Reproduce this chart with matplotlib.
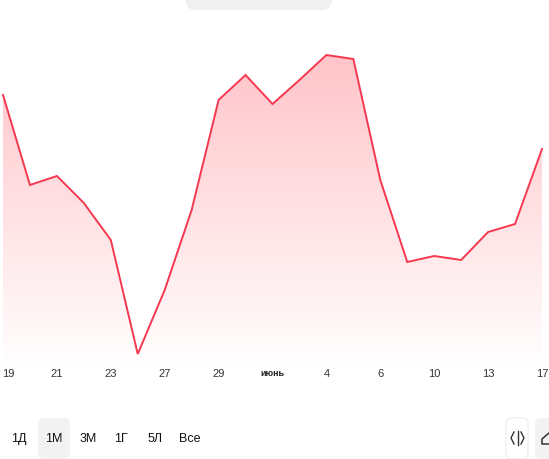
import numpy as np
import matplotlib
matplotlib.use('Agg')
import matplotlib.pyplot as plt
from matplotlib.patches import FancyBboxPatch, Polygon
from matplotlib.transforms import ScaledTranslation

plt.rcParams['font.family'] = ['Liberation Sans', 'DejaVu Sans']

# values (height above the bottom of the plot area)
values = [275, 185, 194, 167, 130, 16, 80, 160, 270, 295, 266, 290, 315, 311, 190, 108, 114, 110, 138, 146, 221]
days = list(range(len(values)))
tick_pos = [0, 2, 4, 6, 8, 10, 12, 14, 16, 18, 20]
tick_labels = ['19', '21', '23', '27', '29', 'июнь', '4', '6', '10', '13', '17']
ranges = ['1Д', '1М', '3М', '1Г', '5Л', 'Все']
range_x = [19, 54, 88, 121, 155, 190]

W, H = 549, 459
fig = plt.figure(figsize=(W / 100, H / 100), dpi=100)

# page layer in pixel coords, for the buttons
bg = fig.add_axes([0, 0, 1, 1])
bg.set_xlim(0, W)
bg.set_ylim(H, 0)
bg.axis('off')

# chart itself
left, right, top, bottom = 3, 542, 20, 370
ax = fig.add_axes([left / W, 1 - bottom / H, (right - left) / W, (bottom - top) / H])
ax.patch.set_alpha(0)
for s in ax.spines.values():
    s.set_visible(False)
ax.set_yticks([])
ax.set_xticks(tick_pos)
ax.set_xticklabels(tick_labels, fontsize=8, color='#333333')
ax.tick_params(axis='x', length=0, pad=-1)
for lab, txt in zip(ax.get_xticklabels(), tick_labels):
    if txt == 'июнь':
        lab.set_fontweight('bold')
        lab.set_fontsize(6.5)
        lab.set_color('#222222')
first = ax.get_xticklabels()[0]
first.set_ha('left')
first.set_transform(first.get_transform() + ScaledTranslation(-1 / 100, 0, fig.dpi_scale_trans))

# gradient under the line
grad = np.linspace(0, 1, 256)
rgba = np.ones((256, 1, 4))
rgba[:, 0, 1] = 0.77 + 0.23 * grad
rgba[:, 0, 2] = 0.79 + 0.21 * grad
im = ax.imshow(rgba, extent=[0, 20, 0, 315], aspect='auto', origin='upper', zorder=1)
ax.set_xlim(0, 20)
ax.set_ylim(0, 350)
poly = Polygon(list(zip(days, values)) + [(20, 0), (0, 0)], closed=True, transform=ax.transData, fc='none', ec='none')
ax.add_patch(poly)
im.set_clip_path(poly)
ax.plot(days, values, color='#f5384f', lw=1.4, zorder=3, clip_on=False, solid_joinstyle='miter')

# top pill, cut off by the page edge
bg.add_patch(FancyBboxPatch((190, -20), 138, 26, boxstyle='round,pad=0,rounding_size=6', fc='#f0f0f0', ec='#f0f0f0', lw=6))

# range buttons
bg.add_patch(FancyBboxPatch((41, 421), 26, 35, boxstyle='round,pad=3,rounding_size=6', fc='#f2f2f2', ec='none'))
for x, t in zip(range_x, ranges):
    bg.text(x, 439, t, ha='center', va='center', fontsize=9, color='#111111')

# right hand icon buttons
bg.add_patch(FancyBboxPatch((509, 421), 16, 35, boxstyle='round,pad=3,rounding_size=6', fc='white', ec='#f0f0f0', lw=1))
bg.add_patch(FancyBboxPatch((538, 421), 20, 35, boxstyle='round,pad=3,rounding_size=6', fc='#f2f2f2', ec='none'))
bg.plot([514, 511, 514], [432, 438, 444], color='#333333', lw=1)
bg.plot([517.5, 517.5], [431, 445], color='#333333', lw=1)
bg.plot([521, 524, 521], [432, 438, 444], color='#333333', lw=1)
bg.plot([549, 542, 542, 549], [433, 439, 444, 444], color='#333333', lw=1.1, clip_on=True)

fig.savefig('out.png', dpi=100)
